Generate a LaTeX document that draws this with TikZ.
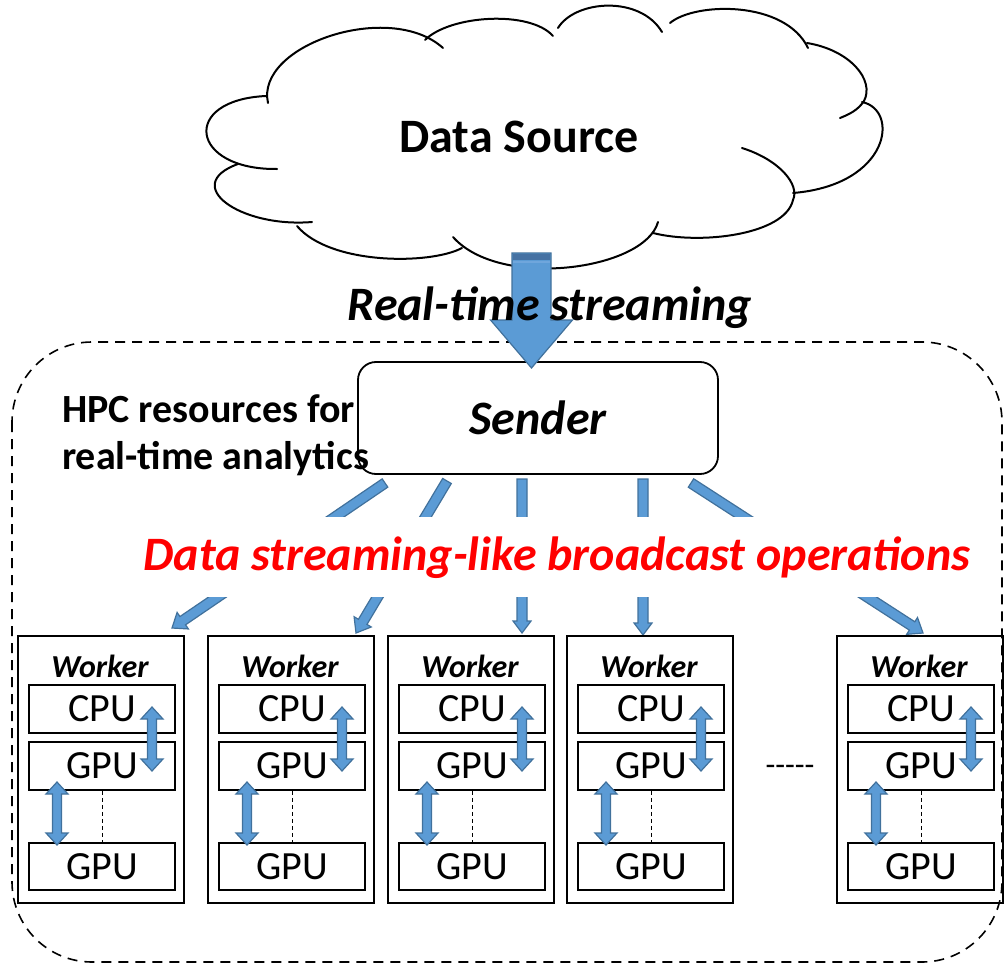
\documentclass[tikz,border=0pt]{standalone}
\usepackage{fontspec}
\setmainfont{Carlito}
\usetikzlibrary{calc}
\definecolor{afill}{HTML}{5B9BD5}
\definecolor{adraw}{HTML}{41719C}
\definecolor{aband}{HTML}{4672A3}
\definecolor{alight}{HTML}{6FA6DC}
\newcommand\fsL{\fontsize{48}{56}\selectfont}
\newcommand\fsM{\fontsize{40}{47}\selectfont}
\newcommand\fsS{\fontsize{32}{38}\selectfont}
\tikzset{
  barrow/.style={fill=afill, draw=adraw, line width=1.2pt, line join=miter},
  cloudline/.style={line width=2pt, line cap=round},
  wbox/.style={draw, line width=1.8pt, inner sep=0pt},
  ibox/.style={draw, line width=1.8pt, inner sep=0pt, minimum width=146pt, font=\fsM},
  wlabel/.style={font=\fsS\bfseries\itshape, inner sep=0pt},
}
% block arrow: start, end, half shaft, head length, half head width
\newcommand\blockarr[5]{%
  \coordinate (ba-h) at ($(#2)!#4!(#1)$);
  \filldraw[barrow] ($(#1)!#3!90:(#2)$) -- ($(ba-h)!#3!90:(#2)$) -- ($(ba-h)!#5!90:(#2)$) -- (#2)
    -- ($(ba-h)!#5!-90:(#2)$) -- ($(ba-h)!#3!-90:(#2)$) -- ($(#1)!#3!-90:(#2)$) -- cycle;}
% double block arrow: A, B, half shaft, head length, half head width
\newcommand\dblarr[5]{%
  \coordinate (da-a) at ($(#1)!#4!(#2)$);
  \coordinate (da-b) at ($(#2)!#4!(#1)$);
  \filldraw[barrow] (#1) -- ($(da-a)!#5!90:(#2)$) -- ($(da-a)!#3!90:(#2)$) -- ($(da-b)!#3!90:(#2)$)
    -- ($(da-b)!#5!90:(#2)$) -- (#2) -- ($(da-b)!#5!-90:(#2)$) -- ($(da-b)!#3!-90:(#2)$)
    -- ($(da-a)!#3!-90:(#2)$) -- ($(da-a)!#5!-90:(#2)$) -- cycle;}
\newcommand\worker[2]{%
  \node[wbox, minimum width=166pt, minimum height=267pt] (#1) at (#2+83,769.5) {};
  \node[wlabel, anchor=base] (#1-lab) at (#2+82,677) {Worker};
  \node[ibox, minimum height=48pt] (#1-cpu) at (#2+84,709) {CPU};
  \node[ibox, minimum height=48pt] (#1-gpua) at (#2+84,766) {GPU};
  \node[ibox, minimum height=47pt] (#1-gpub) at (#2+84,866.5) {GPU};
  \draw[line width=1pt, dash pattern=on 4pt off 3pt] (#1-gpua.south) -- (#1-gpub.north);
  \coordinate (#1-u1) at (#2+134,707);
  \coordinate (#1-u2) at (#2+134,771);
  \coordinate (#1-d1) at (#2+39,782);
  \coordinate (#1-d2) at (#2+39,845);
  \dblarr{#1-u1}{#1-u2}{4.5pt}{12pt}{11pt}
  \dblarr{#1-d1}{#1-d2}{4.5pt}{12pt}{11pt}
}
\begin{document}
\begin{tikzpicture}[x=1pt,y=-1pt]
\useasboundingbox (0,0) rectangle (1005,966);
% cloud
\fill[white] (266,97) .. controls (258,45) and (390,0) .. (428,40)
  .. controls (450,15) and (530,10) .. (556,32)
  .. controls (575,0) and (640,-5) .. (666,28)
  .. controls (695,2) and (785,0) .. (807,45)
  .. controls (850,50) and (875,80) .. (863,102)
  .. controls (900,110) and (890,185) .. (793,195)
  .. controls (785,235) and (700,245) .. (655,230)
  .. controls (640,275) and (500,290) .. (458,243)
  .. controls (430,265) and (330,265) .. (299,227)
  .. controls (240,228) and (180,185) .. (238,164)
  .. controls (190,150) and (185,100) .. (266,97) -- cycle;
\draw[cloudline] (268,103) .. controls (255,45) and (390,0) .. (443,48);
\draw[cloudline] (425,40) .. controls (450,15) and (530,10) .. (553,36);
\draw[cloudline] (558,28) .. controls (575,0) and (640,-5) .. (662,32);
\draw[cloudline] (670,23) .. controls (695,2) and (785,0) .. (808,48);
\draw[cloudline] (807,43) .. controls (850,50) and (875,80) .. (864,101) .. controls (858,110) and (850,114) .. (840,118);
\draw[cloudline] (862,102) .. controls (900,110) and (890,185) .. (793,193);
\draw[cloudline] (742,148) .. controls (780,160) and (800,185) .. (793,200) .. controls (785,235) and (700,245) .. (653,233);
\draw[cloudline] (658,222) .. controls (645,270) and (500,290) .. (453,237);
\draw[cloudline] (462,248) .. controls (430,265) and (330,265) .. (297,226);
\draw[cloudline] (312,222) .. controls (240,228) and (180,185) .. (238,164);
\draw[cloudline] (277,169) .. controls (190,170) and (180,100) .. (266,96);
\node[font=\fsL\bfseries, anchor=base] (src) at (519,152) {Data Source};
% HPC region
\draw[line width=1.6pt, dash pattern=on 10pt off 7pt, rounded corners=80pt] (12,342) rectangle (1002,962);
\node[draw, line width=1.8pt, rounded corners=18pt, fill=white, minimum width=360pt, minimum height=112pt, inner sep=0pt, font=\fsL\bfseries\itshape] (sender) at (538,418) {Sender};
% big arrow
\coordinate (bigs) at (531.5,253);
\coordinate (bige) at (531.5,368);
\blockarr{bigs}{bige}{19.5pt}{48pt}{41pt}
\fill[aband] (512.6,253.6) rectangle (550.4,260);
\fill[alight] (513,261) rectangle (550,263);
\node[font=\fsL\bfseries\itshape, anchor=base] (rts) at (550,320) {Real-time streaming};
\node[font=\fsM\bfseries, align=left, anchor=base west, inner sep=0pt] (hpc) at (62,469) {HPC resources for\\real-time analytics};
% thin arrows
\coordinate (s1) at (385,483); \coordinate (e1) at (172,628);
\coordinate (s2) at (447,481); \coordinate (e2) at (356,633);
\coordinate (s3) at (522,479); \coordinate (e3) at (522,633);
\coordinate (s4) at (643,479); \coordinate (e4) at (643,635);
\coordinate (s5) at (691,483); \coordinate (e5) at (923,633);
\blockarr{s1}{e1}{5pt}{13pt}{10pt}
\blockarr{s2}{e2}{5pt}{13pt}{10pt}
\blockarr{s3}{e3}{5pt}{12pt}{9pt}
\blockarr{s4}{e4}{5pt}{12pt}{9pt}
\blockarr{s5}{e5}{5pt}{13pt}{10pt}
\node[fill=white, text=red, font=\fsL\bfseries\itshape, minimum height=80pt, inner xsep=2pt, anchor=base] (bcast) at (557,570) {Data streaming-like broadcast operations};
% workers
\worker{w1}{18}
\worker{w2}{208}
\worker{w3}{388}
\worker{w4}{567}
\worker{w5}{837}
\node[font=\fsS] (dots) at (790,770) {-{}-{}-{}-{}-};
\end{tikzpicture}
\end{document}
